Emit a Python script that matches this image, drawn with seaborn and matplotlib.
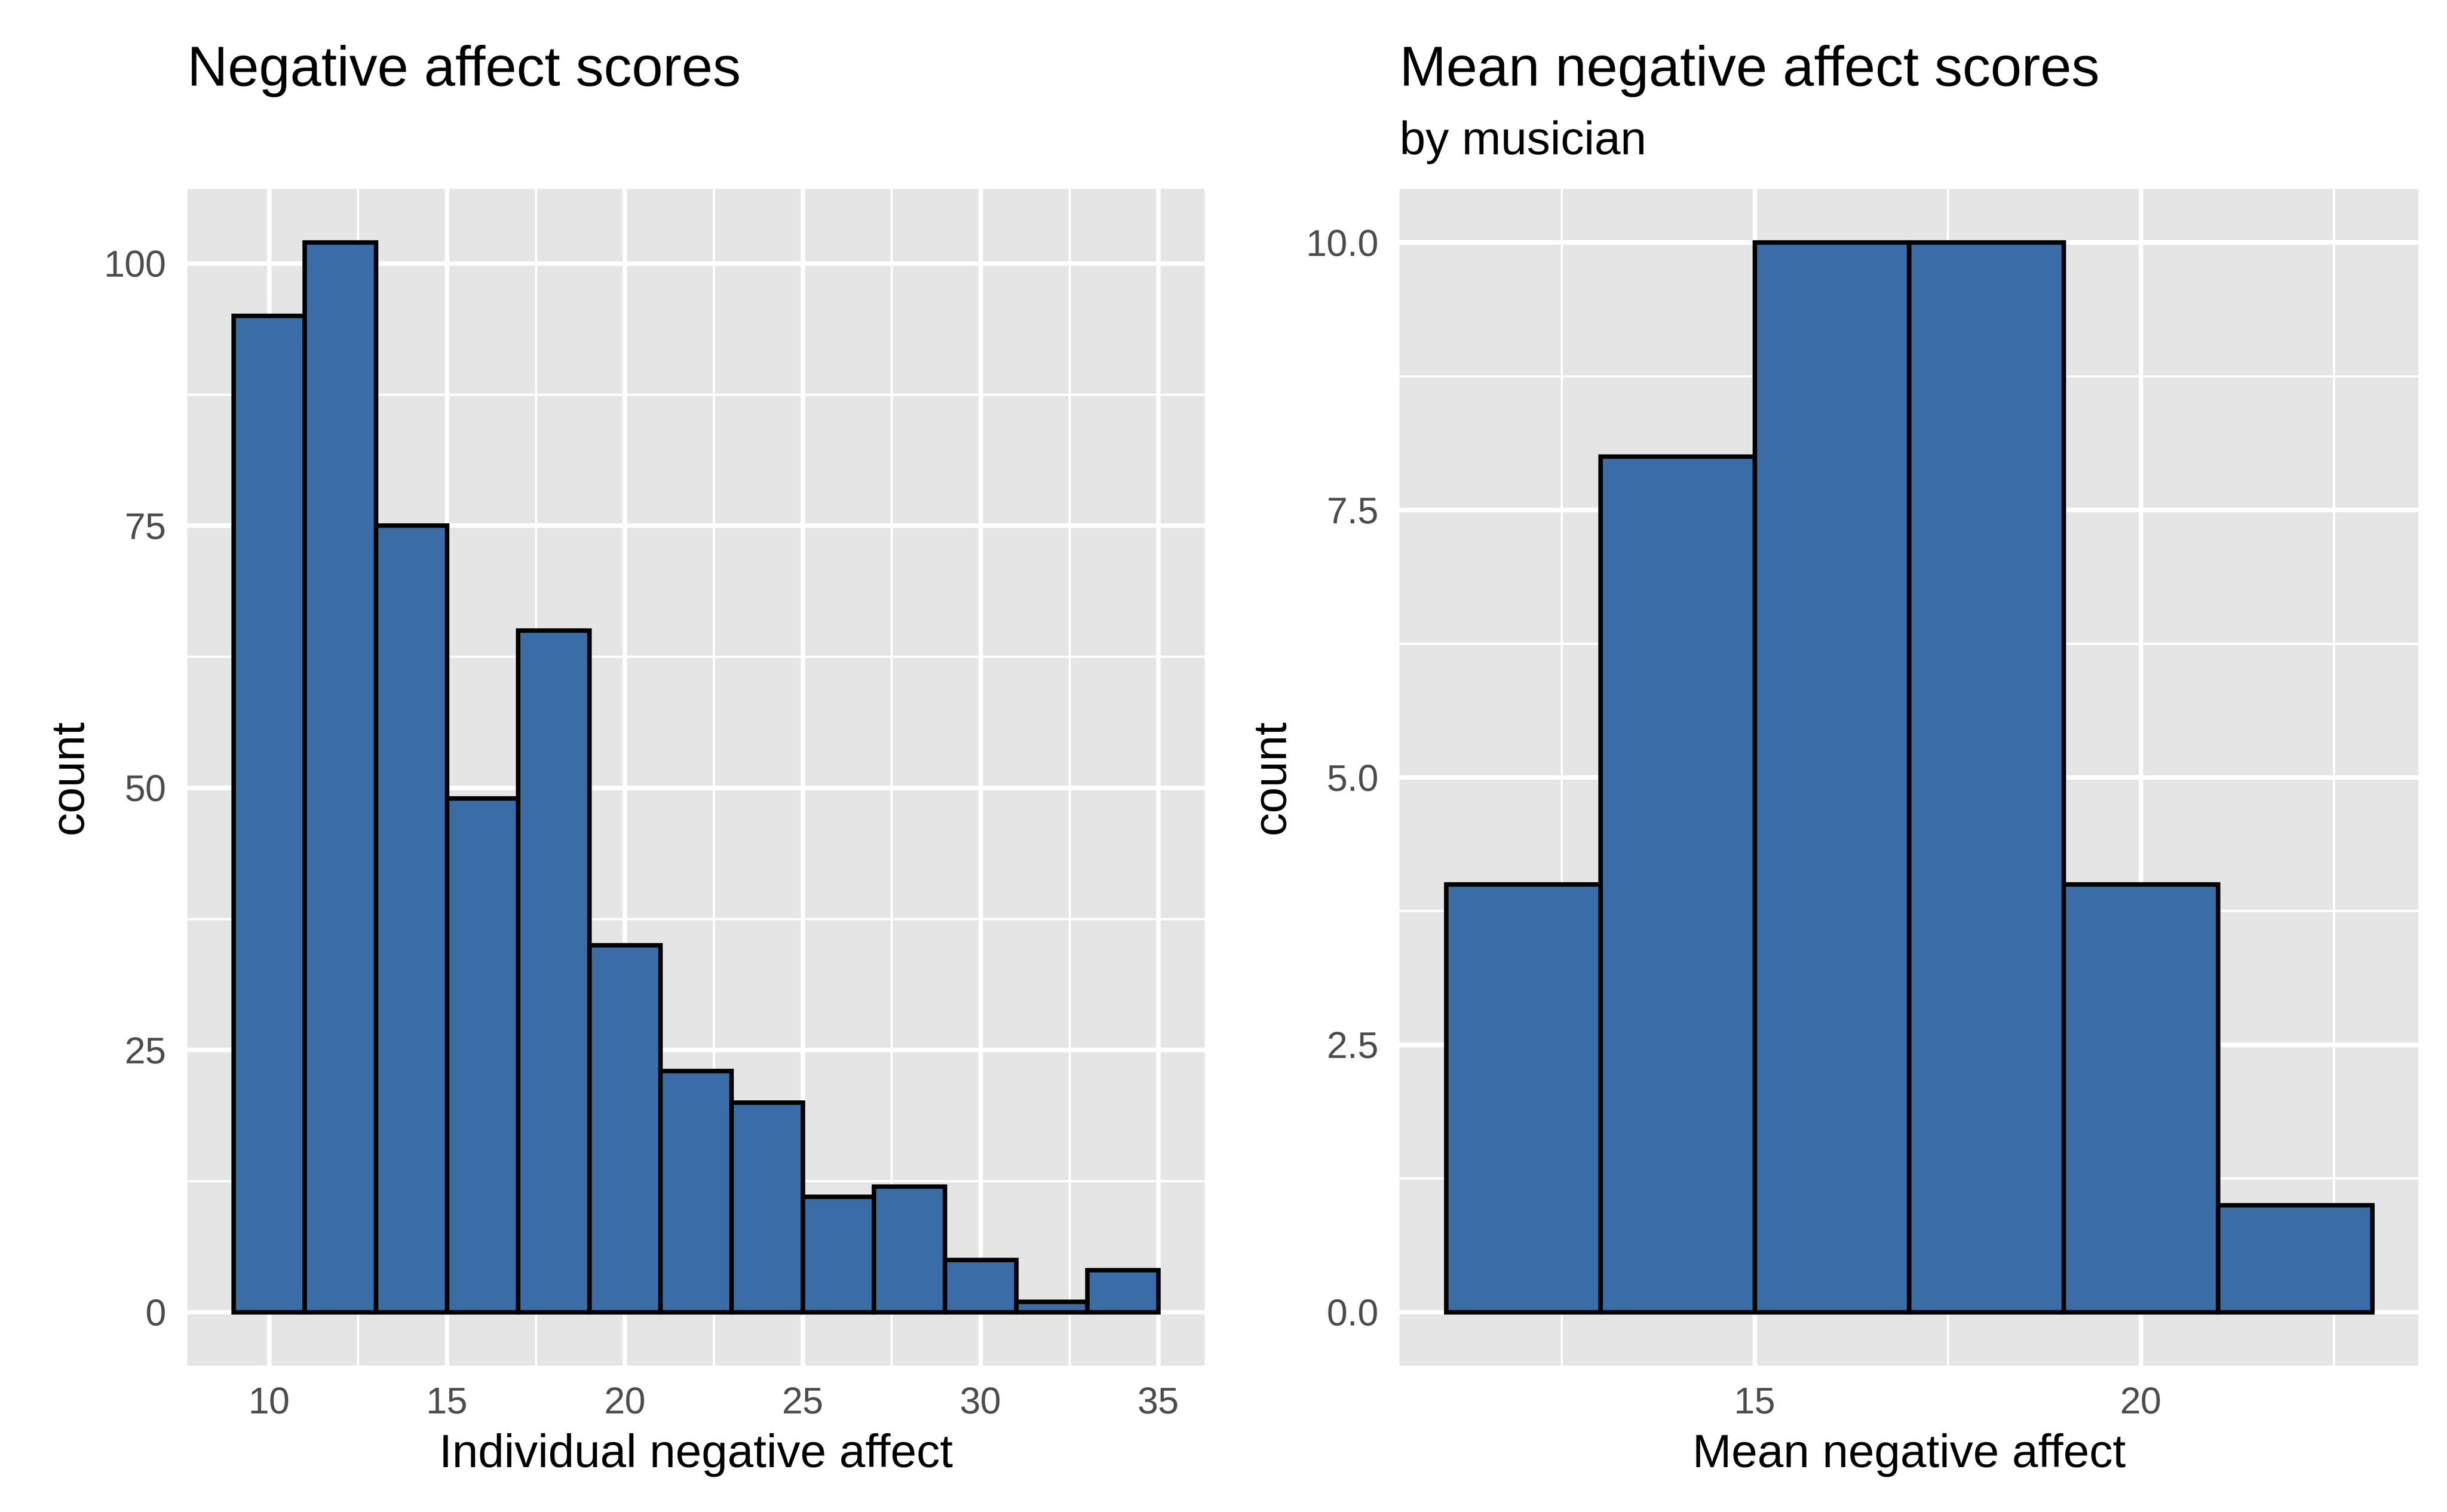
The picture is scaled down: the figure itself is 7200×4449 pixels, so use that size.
import numpy as np
import pandas as pd
import matplotlib
matplotlib.use("Agg")
import matplotlib.pyplot as plt
import seaborn as sns
from matplotlib.ticker import FixedLocator

# individual negative affect, bins of width 2 from 9 to 35
indiv_edges = [9, 11, 13, 15, 17, 19, 21, 23, 25, 27, 29, 31, 33, 35]
indiv_counts = [95, 102, 75, 49, 65, 35, 23, 20, 11, 12, 5, 1, 4]

# mean negative affect by musician, bins of width 2 from 11 to 23
mean_edges = [11, 13, 15, 17, 19, 21, 23]
mean_counts = [4, 8, 10, 10, 4, 1]

BAR = "#3A6DA5"
PANEL = "#E5E5E5"
LW = 1.067

sns.set_style("darkgrid", {"axes.facecolor": PANEL, "grid.color": "white"})
plt.rcParams["font.family"] = ["Liberation Sans", "DejaVu Sans"]
plt.rcParams["text.color"] = "black"
plt.rcParams["axes.labelcolor"] = "black"


def to_frame(edges, counts):
    edges = np.asarray(edges, dtype=float)
    mids = (edges[:-1] + edges[1:]) / 2
    return pd.DataFrame({"value": mids, "count": counts})


def style_axis(ax, xlim, ylim, xmajor, xminor, ymajor, yminor, yfmt):
    ax.set_xlim(*xlim)
    ax.set_ylim(*ylim)
    ax.xaxis.set_major_locator(FixedLocator(xmajor))
    ax.xaxis.set_minor_locator(FixedLocator(xminor))
    ax.yaxis.set_major_locator(FixedLocator(ymajor))
    ax.yaxis.set_minor_locator(FixedLocator(yminor))
    ax.set_yticklabels([yfmt.format(v) for v in ymajor])
    ax.grid(which="major", color="white", linewidth=LW)
    ax.grid(which="minor", color="white", linewidth=LW / 2)
    ax.set_axisbelow(True)
    for s in ax.spines.values():
        s.set_visible(False)
    ax.tick_params(which="major", length=2.75, width=LW, color="#333333",
                   labelsize=8.8, labelcolor="#4D4D4D", pad=2.2)
    ax.tick_params(which="minor", length=0)
    ax.set_ylabel("count", fontsize=11, labelpad=2.75, color="black")


def draw(ax, edges, counts):
    df = to_frame(edges, counts)
    sns.histplot(data=df, x="value", weights="count", bins=edges, ax=ax,
                 color=BAR, edgecolor="black", linewidth=LW, alpha=1.0)


fig = plt.figure(figsize=(8, 4449 / 900), dpi=900)
ax1 = fig.add_axes([0.0765, 0.0968, 0.4158, 0.7783])
ax2 = fig.add_axes([0.5720, 0.0968, 0.4164, 0.7783])

draw(ax1, indiv_edges, indiv_counts)
style_axis(ax1, (7.7, 36.3), (-5.1, 107.1),
           [10, 15, 20, 25, 30, 35], [12.5, 17.5, 22.5, 27.5, 32.5],
           [0, 25, 50, 75, 100], [12.5, 37.5, 62.5, 87.5], "{:.0f}")
ax1.set_xlabel("Individual negative affect", fontsize=11, labelpad=2.75, color="black")

draw(ax2, mean_edges, mean_counts)
style_axis(ax2, (10.4, 23.6), (-0.5, 10.5),
           [15, 20], [12.5, 17.5, 22.5],
           [0, 2.5, 5.0, 7.5, 10.0], [1.25, 3.75, 6.25, 8.75], "{:.1f}")
ax2.set_xlabel("Mean negative affect", fontsize=11, labelpad=2.75, color="black")

fig.text(0.0765, 0.953, "Negative affect scores", fontsize=13.2, ha="left", va="center",
         color="black")
fig.text(0.5720, 0.953, "Mean negative affect scores", fontsize=13.2, ha="left", va="center",
         color="black")
fig.text(0.5720, 0.906, "by musician", fontsize=11, ha="left", va="center", color="black")

fig.savefig("out.png", dpi=900, facecolor="white")
